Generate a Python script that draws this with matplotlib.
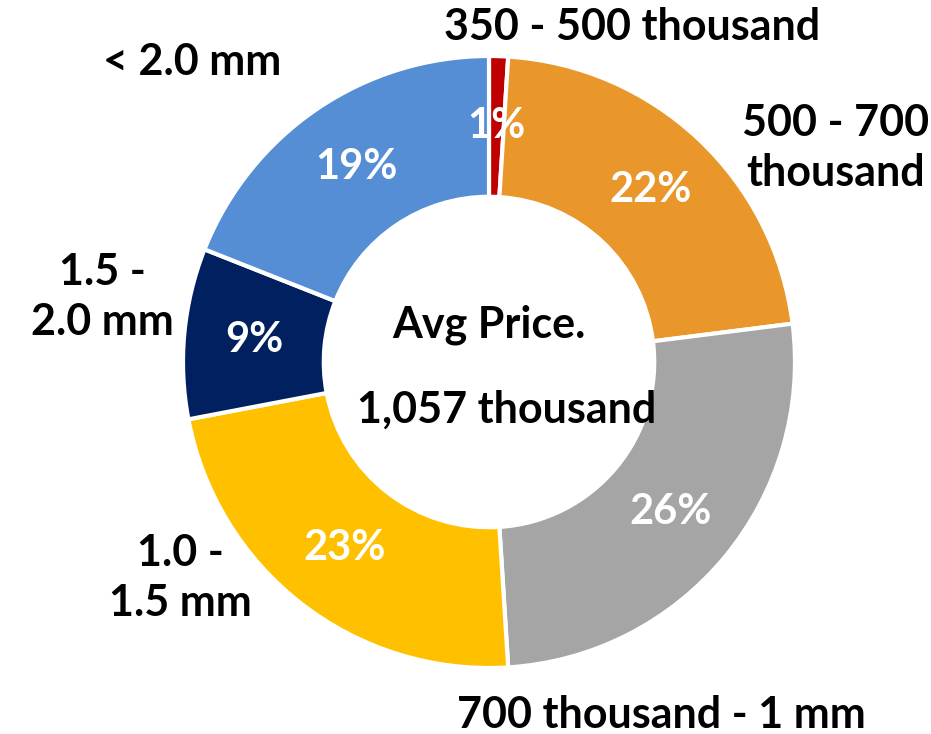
import matplotlib
matplotlib.use("Agg")
import matplotlib.pyplot as plt

categories = ["350 - 500 thousand", "500 - 700\nthousand", "700 thousand - 1 mm",
              "1.0 -\n1.5 mm", "1.5 -\n2.0 mm", "< 2.0 mm"]
shares = [1, 22, 26, 23, 9, 19]
colors = ["#C00000", "#E9962A", "#A5A5A5", "#FFC000", "#002060", "#558ED5"]

# where each category name sits (pixel coords, y measured from the top)
label_xy = [(632, 27), (836, 148), (661, 715), (180, 578), (102, 297), (192, 62)]

W, H = 931, 734
cx, cy, r_out = 489, 362, 306

plt.rcParams["font.family"] = ["Lato", "DejaVu Sans"]
plt.rcParams["font.weight"] = "bold"

fig = plt.figure(figsize=(W / 100, H / 100), dpi=100)
ax = fig.add_axes([0, 0, 1, 1])
ax.set_xlim(0, W)
ax.set_ylim(0, H)
ax.set_aspect("equal")
ax.axis("off")

wedges, _, autotexts = ax.pie(
    shares, colors=colors, startangle=90, counterclock=False,
    center=(cx, H - cy), radius=r_out,
    autopct=lambda p: f"{p:.0f}%", pctdistance=0.77,
    wedgeprops=dict(width=r_out * 0.46, edgecolor="white", linewidth=3),
    textprops=dict(color="white", fontsize=30, fontweight="bold"),
)
ax.set_xlim(0, W)
ax.set_ylim(0, H)

for name, (x, y) in zip(categories, label_xy):
    ax.text(x, H - y, name, ha="center", va="center", fontsize=31,
            fontweight="bold", color="black", linespacing=1.3)

ax.text(cx, H - 325, "Avg Price.", ha="center", va="center",
        fontsize=31, fontweight="bold")
ax.text(cx + 18, H - 410, "1,057 thousand", ha="center", va="center",
        fontsize=31, fontweight="bold")

fig.savefig("out.png", dpi=100)
